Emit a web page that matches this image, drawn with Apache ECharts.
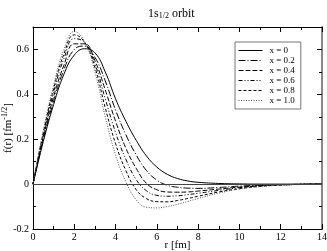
<!DOCTYPE html>
<html><head><meta charset="utf-8">
<script src="https://cdn.jsdelivr.net/npm/echarts@6/dist/echarts.min.js"></script>
<style>html,body{margin:0;padding:0;background:#fff}#c{width:327px;height:251px}</style>
</head><body><div id="c"></div>
<script>
const r      = [0, 0.5, 1, 1.5, 2, 2.5, 3, 3.5, 4, 4.5, 5, 5.5, 6, 6.5, 7, 7.5, 8, 9, 10, 11, 12, 13, 14];
const f_x00  = [0, 0.19, 0.355, 0.49, 0.575, 0.603, 0.585, 0.50, 0.38, 0.28, 0.195, 0.125, 0.076, 0.044, 0.025, 0.014, 0.008, 0.003, 0.001, 0, 0, 0, 0];
const f_x02  = [0, 0.20, 0.37, 0.51, 0.60, 0.615, 0.565, 0.46, 0.33, 0.22, 0.13, 0.06, 0.018, -0.005, -0.014, -0.018, -0.019, -0.015, -0.009, -0.005, -0.002, -0.001, 0];
const f_x04  = [0, 0.21, 0.39, 0.53, 0.625, 0.625, 0.55, 0.42, 0.28, 0.16, 0.07, 0.003, -0.025, -0.035, -0.036, -0.035, -0.031, -0.022, -0.013, -0.007, -0.003, -0.001, 0];
const f_x06  = [0, 0.22, 0.41, 0.56, 0.648, 0.63, 0.535, 0.38, 0.23, 0.11, 0.02, -0.03, -0.05, -0.054, -0.052, -0.047, -0.041, -0.028, -0.016, -0.008, -0.004, -0.001, 0];
const f_x08  = [0, 0.23, 0.425, 0.58, 0.665, 0.632, 0.52, 0.34, 0.18, 0.06, -0.025, -0.065, -0.078, -0.079, -0.073, -0.064, -0.054, -0.035, -0.02, -0.01, -0.004, -0.001, 0];
const f_x10  = [0, 0.24, 0.44, 0.60, 0.68, 0.635, 0.50, 0.30, 0.13, 0.01, -0.07, -0.103, -0.106, -0.10, -0.09, -0.077, -0.064, -0.04, -0.022, -0.011, -0.005, -0.002, 0];
const names  = ['x = 0', 'x = 0.2', 'x = 0.4', 'x = 0.6', 'x = 0.8', 'x = 1.0'];
const xTicks = [0, 2, 4, 6, 8, 10, 12, 14];
const yTicks = [-0.2, 0, 0.2, 0.4, 0.6];

const curves = [f_x00, f_x02, f_x04, f_x06, f_x08, f_x10];
const dashes = ['solid', [7,2,1,2], [5,2], [4,2,1,2,1,2], [3,2], [1,1.5]];
const colors = ['#000', '#000', '#000', '#000', '#000', '#555'];
const FONT = 'Liberation Serif';

const series = curves.map((f, i) => ({
  name: names[i], type: 'line', data: r.map((x, k) => [x, f[k]]),
  xAxisIndex: 0, yAxisIndex: 0,
  showSymbol: false, symbol: 'none', smooth: 0.45,
  lineStyle: {color: colors[i], width: 1, type: dashes[i]},
  itemStyle: {color: colors[i]},
  z: 3, silent: true,
  markLine: i === 0 ? {symbol: 'none', silent: true, label: {show: false},
    lineStyle: {color: '#444', width: 1, type: 'solid'}, data: [{yAxis: 0}]} : undefined
}));

const tick = {show: true, inside: true, length: 5, lineStyle: {color: '#000'}};
const minor = {show: true, splitNumber: 2, length: 3, lineStyle: {color: '#000'}};

const chart = echarts.init(document.getElementById('c'), null, {renderer: 'canvas'});
chart.setOption({
  animation: false,
  backgroundColor: '#fff',
  title: {
    text: '{a|1s}{s|1/2}{a| orbit}', left: 143, top: 2,
    textStyle: {fontWeight: 'normal', rich: {
      a: {fontFamily: FONT, fontSize: 12, color: '#000', fontWeight: 'normal'},
      s: {fontFamily: FONT, fontSize: 8, color: '#000', fontWeight: 'normal', padding: [5, 0, 0, 0]}
    }}
  },
  grid: {left: 33, right: 5, top: 27, bottom: 22, containLabel: false, outerBoundsMode: 'none'},
  legend: {
    orient: 'vertical', left: 235, top: 42, width: 70,
    itemWidth: 24, itemHeight: 8, itemGap: 1, padding: [4, 6, 4, 3],
    borderColor: '#777', borderWidth: 1, backgroundColor: '#fff',
    itemStyle: {color: 'rgba(0,0,0,0)', borderWidth: 0, opacity: 0},
    lineStyle: {width: 1},
    textStyle: {fontFamily: FONT, fontSize: 9, color: '#000', padding: [0, 0, 0, 2]},
    data: names
  },
  xAxis: [{
    type: 'value', min: 0, max: 14, interval: 2, position: 'bottom',
    name: 'r [fm]', nameLocation: 'middle', nameGap: 11, nameMoveOverlap: false,
    nameTextStyle: {fontFamily: FONT, fontSize: 11, color: '#000'},
    axisLine: {onZero: false, lineStyle: {color: '#000', width: 1}},
    axisTick: tick, minorTick: minor,
    axisLabel: {fontFamily: FONT, fontSize: 10, color: '#000', margin: 3,
      formatter: v => xTicks.includes(v) ? String(v) : ''},
    splitLine: {show: false}
  }, {
    type: 'value', min: 0, max: 14, interval: 2, position: 'top',
    axisLine: {onZero: false, lineStyle: {color: '#000', width: 1}},
    axisTick: tick, minorTick: minor, axisLabel: {show: false}, splitLine: {show: false}
  }],
  yAxis: [{
    type: 'value', min: -0.2, max: 0.7, interval: 0.2, position: 'left',
    name: '{a|f(r) [fm}{s|-1/2}{a|]}', nameLocation: 'middle', nameGap: 18, nameRotate: 90,
    nameMoveOverlap: false,
    nameTextStyle: {rich: {
      a: {fontFamily: FONT, fontSize: 11, color: '#000'},
      s: {fontFamily: FONT, fontSize: 8, color: '#000', padding: [0, 0, 6, 0]}
    }},
    axisLine: {onZero: false, lineStyle: {color: '#000', width: 1}},
    axisTick: tick, minorTick: minor,
    axisLabel: {fontFamily: FONT, fontSize: 10, color: '#000', margin: 4, showMaxLabel: false,
      formatter: v => {const t = yTicks.find(y => Math.abs(y - v) < 1e-6); return t === undefined ? '' : String(t);}},
    splitLine: {show: false}
  }, {
    type: 'value', min: -0.2, max: 0.7, interval: 0.2, position: 'right',
    axisLine: {onZero: false, lineStyle: {color: '#888', width: 2}},
    axisTick: tick, minorTick: minor, axisLabel: {show: false}, splitLine: {show: false}
  }],
  series: series
});
</script></body></html>
